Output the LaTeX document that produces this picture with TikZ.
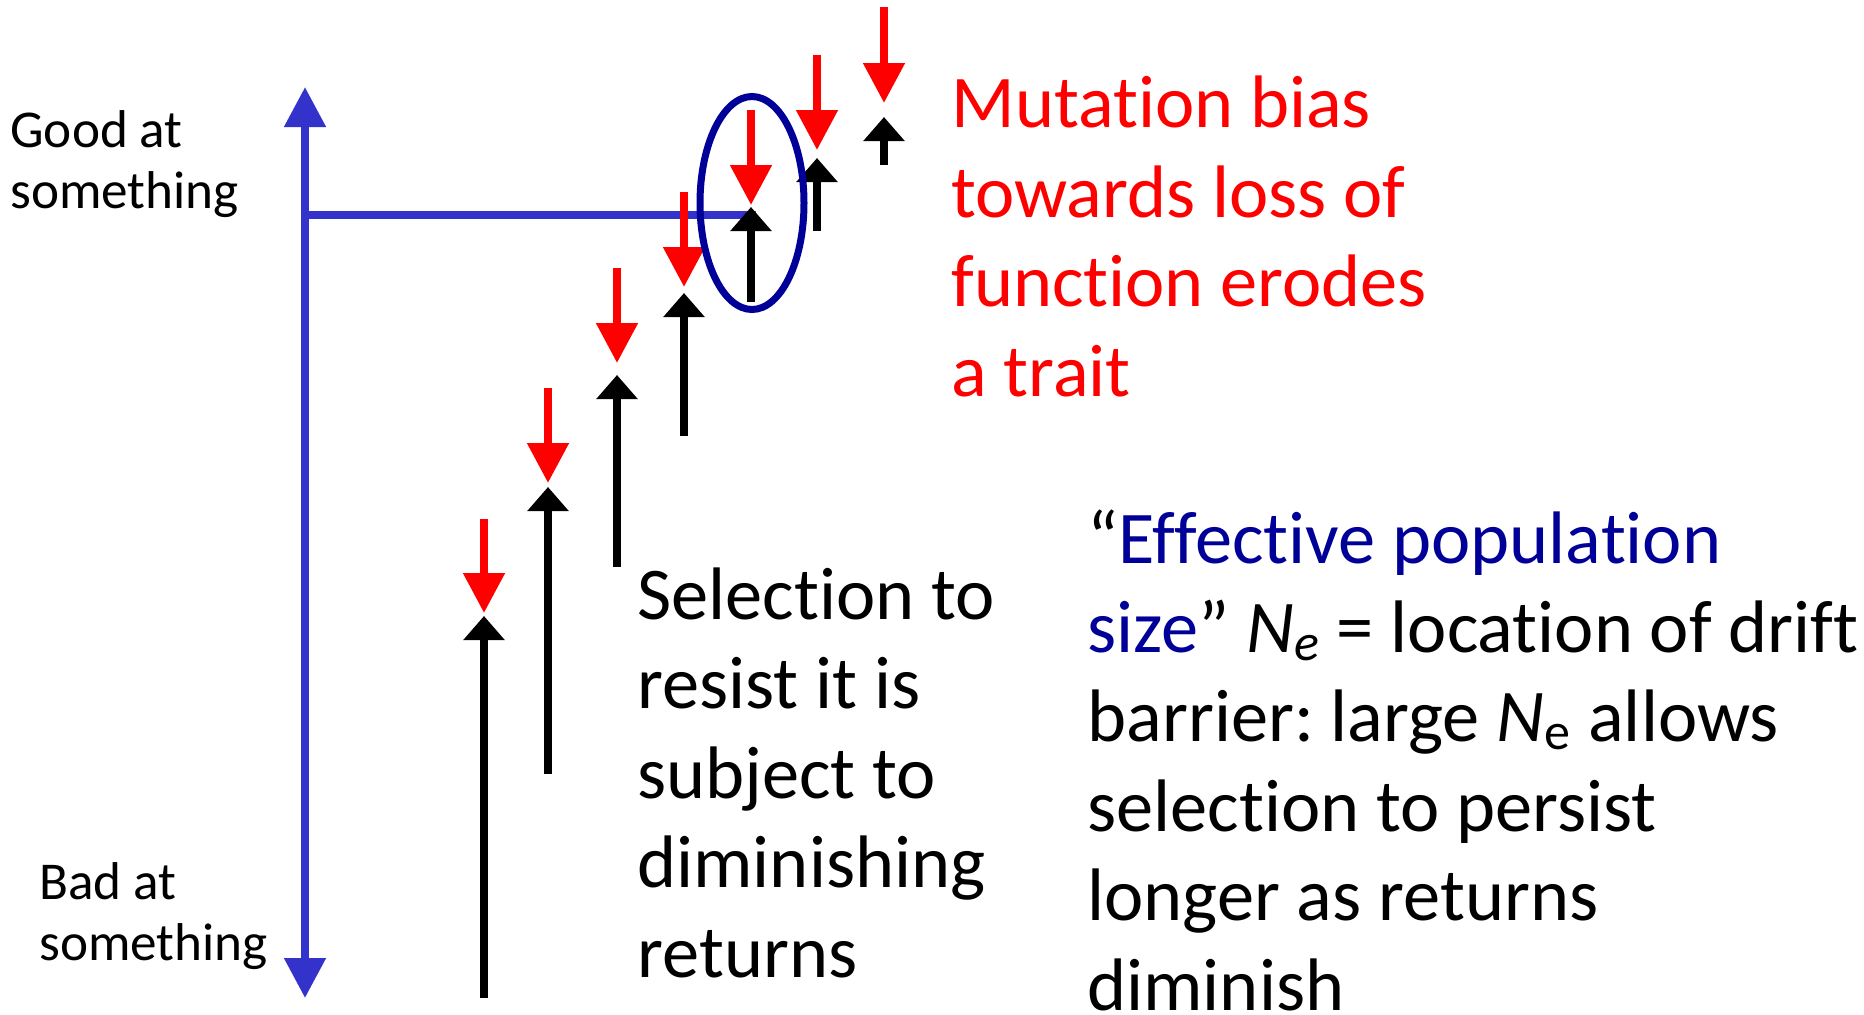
\documentclass[tikz,border=0pt]{standalone}
\usepackage{fontspec}
\setmainfont{Carlito}[Ligatures=NoCommon]
\usetikzlibrary{arrows.meta, shapes.geometric}
\definecolor{axisblue}{RGB}{51,51,204}
\definecolor{navy}{RGB}{0,0,153}
\frenchspacing

\begin{document}
\begin{tikzpicture}[
    x=0.5pt, y=-0.5pt,
    bigtext/.style={anchor=base west, align=left, inner sep=0pt,
      font=\fontsize{37.2}{44.7}\selectfont},
    sidetext/.style={anchor=base west, align=left, inner sep=0pt,
      font=\fontsize{26.6}{30.5}\selectfont},
    bias/.style={red, line width=4pt, -{Triangle[length=20pt, width=20pt]}},
    sel/.style={black, line width=4pt, -{Triangle[length=12pt, width=20pt]}},
    axis/.style={axisblue, line width=4pt,
      {Triangle[length=20pt, width=20pt]}-{Triangle[length=20pt, width=20pt]}}
]
  \useasboundingbox (0,0) rectangle (1864,1014);

  % --- AXIS ---
  \coordinate (good) at (305,87);
  \coordinate (bad) at (305,998);
  \coordinate (lvl) at (301,215);
  \coordinate (lvlend) at (756,215);
  \draw[axis] (bad) -- (good);
  \draw[axisblue, line width=4pt] (lvl) -- (lvlend);

  % labels sit on the baseline of their last line
  \node[sidetext] (goodlbl) at (10,208) {Good at\\something};
  \node[sidetext] (badlbl) at (39,960) {Bad at\\something};

  % --- ARROW PAIRS ---
  % x / red start / red tip / black tip / black start
  \foreach \i/\x/\rs/\rt/\bt/\bs in {1/484/519/613/616/998, 2/548/388/483/487/774,
      3/617/268/363/375/567, 4/684/192/287/293/436, 5/751/110/205/207/302,
      6/817/55/150/158/231, 7/884/7/103/117/165}{
    \coordinate (rs\i) at (\x,\rs);
    \coordinate (rt\i) at (\x,\rt);
    \coordinate (bt\i) at (\x,\bt);
    \coordinate (bs\i) at (\x,\bs);
    \draw[bias] (rs\i) -- (rt\i);
    \draw[sel] (bs\i) -- (bt\i);
  }

  % --- BARRIER ---
  \node[draw=navy, line width=3.5pt, ellipse, inner sep=0pt,
    minimum width=52pt, minimum height=106.5pt] (barrier) at (752,203) {};

  % --- TEXT ---
  \node[bigtext, red] (mutlbl) at (951,396)
    {Mutation bias\\towards loss of\\function erodes\\a trait};
  \node[bigtext] (sellbl) at (637,977)
    {Selection to\\resist it is\\subject to\\diminishing\\returns};
  \node[bigtext] (nelbl) at (1087,1010)
    {“\textcolor{navy}{Effective population}\\\textcolor{navy}{size}” \textit{N\textsubscript{e}} = location of drift\\barrier: large \textit{N}\textsubscript{e} allows\\selection to persist\\longer as returns\\diminish};
\end{tikzpicture}
\end{document}
